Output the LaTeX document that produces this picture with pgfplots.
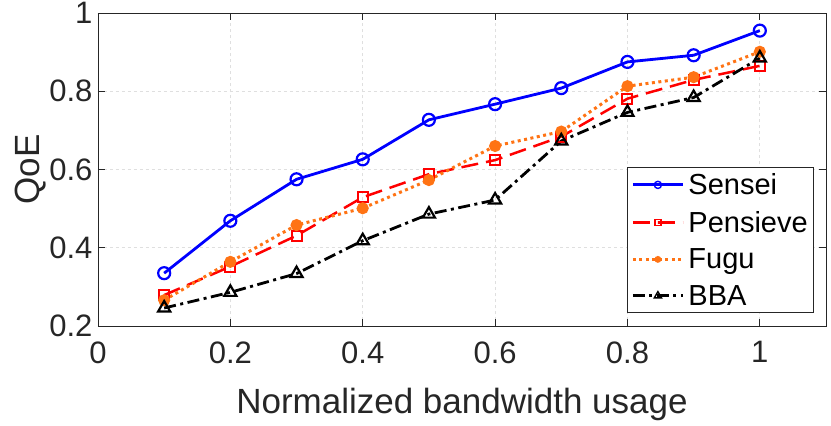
\documentclass[border=0pt]{standalone}
\usepackage{pgfplots}
\pgfplotsset{compat=1.18}
\usepackage{fontspec}
\setmainfont{Liberation Sans}
\definecolor{axgray}{RGB}{38,38,38}
\definecolor{fuguorange}{RGB}{255,115,20}
\begin{document}
\begin{tikzpicture}
\begin{axis}[
  scale only axis,
  width=728pt, height=313pt,
  xmin=0, xmax=1.1, ymin=0.2, ymax=1,
  xtick={0,0.2,0.4,0.6,0.8,1},
  ytick={0.2,0.4,0.6,0.8,1},
  xticklabels={0,0.2,0.4,0.6,0.8,1},
  yticklabels={0.2,0.4,0.6,0.8,1},
  tick pos=both, tick align=inside,
  major tick length=7pt,
  grid=major,
  major grid style={dashed, gray!25, line width=0.8pt},
  axis line style={axgray, line width=0.9pt},
  every tick/.style={axgray, line width=0.9pt},
  tick label style={font=\fontsize{31}{36}\selectfont, text=axgray},
  xticklabel style={yshift=-12pt},
  yticklabel style={xshift=-2pt},
  xlabel={Normalized bandwidth usage},
  ylabel={QoE},
  label style={font=\fontsize{35}{40}\selectfont, text=axgray},
  xlabel style={yshift=-18pt},
  ylabel style={yshift=-4pt},
  legend cell align=left,
  legend style={at={(rel axis cs:0.7266,0.0415)}, anchor=south west,
    font=\fontsize{29}{32}\selectfont, text=black, draw=axgray, line width=0.9pt,
    inner sep=4pt, row sep=11pt, column sep=2pt},
  legend image code/.code={\draw[mark repeat=2,mark phase=2,#1,mark options={solid, line width=1.4pt, scale=0.6}] plot coordinates {(0pt,0pt) (25pt,0pt) (50pt,0pt)};},
]
\addplot[blue, line width=2.8pt, mark=o, mark size=6pt, mark options={solid, line width=2.2pt}]
  coordinates {(0.1,0.335)(0.2,0.469)(0.3,0.575)(0.4,0.626)(0.5,0.727)(0.6,0.767)(0.7,0.808)(0.8,0.875)(0.9,0.892)(1.0,0.955)};
\addlegendentry{Sensei}
\addplot[red, line width=2.5pt, dash pattern=on 17pt off 8pt, mark=square, mark size=5pt, mark options={solid, line width=2pt}]
  coordinates {(0.1,0.279)(0.2,0.352)(0.3,0.431)(0.4,0.529)(0.5,0.588)(0.6,0.624)(0.7,0.684)(0.8,0.781)(0.9,0.829)(1.0,0.865)};
\addlegendentry{Pensieve}
\addplot[fuguorange, line width=3pt, dash pattern=on 3pt off 3.5pt, mark=*, mark size=4.5pt, mark options={solid, fill=fuguorange, draw=fuguorange}]
  coordinates {(0.1,0.266)(0.2,0.364)(0.3,0.458)(0.4,0.501)(0.5,0.573)(0.6,0.660)(0.7,0.697)(0.8,0.813)(0.9,0.836)(1.0,0.901)};
\addlegendentry{Fugu}
\addplot[black, line width=2.8pt, dash pattern=on 12pt off 4.5pt on 3pt off 4.5pt, mark=triangle, mark size=7pt, mark options={solid, line width=2.2pt}]
  coordinates {(0.1,0.246)(0.2,0.286)(0.3,0.334)(0.4,0.418)(0.5,0.486)(0.6,0.522)(0.7,0.673)(0.8,0.746)(0.9,0.784)(1.0,0.885)};
\addlegendentry{BBA}
\end{axis}
\pgfresetboundingbox
\path[use as bounding box] (-98pt,-100pt) rectangle (733pt,326pt);
\end{tikzpicture}
\end{document}
